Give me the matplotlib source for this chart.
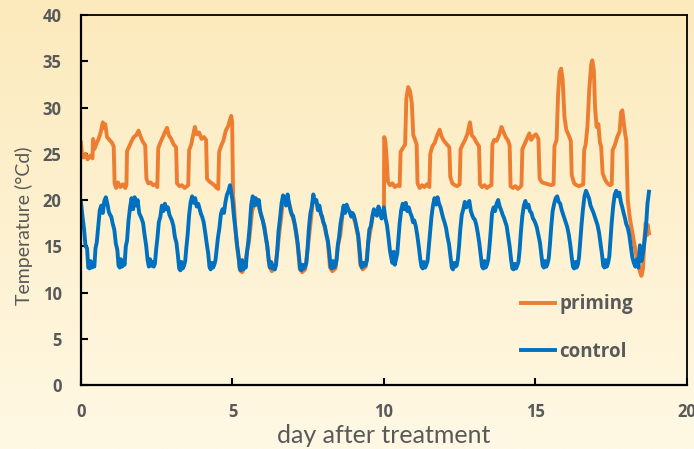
import numpy as np
import matplotlib
matplotlib.use("Agg")
import matplotlib.pyplot as plt

plt.rcParams['font.family'] = ['Lato', 'DejaVu Sans']

# sample offsets within a day (fraction of day)
day_frac = [0.00, 0.05, 0.10, 0.15, 0.20, 0.24, 0.28, 0.32, 0.36, 0.40, 0.44,
            0.48, 0.52, 0.57, 0.62, 0.67, 0.72, 0.77, 0.82, 0.87, 0.92, 0.96]

# control temperature, one row per day (values at day_frac)
control_days = [
    [19.7, 18.2, 16.9, 15.0, 14.8, 12.7, 12.6, 13.4, 12.7, 13.1, 12.8, 14.8, 15.4, 17.2, 18.9, 19.4, 18.6, 19.9, 20.3, 19.6, 18.7, 18.4],
    [18.2, 17.4, 16.8, 15.3, 14.6, 12.9, 12.7, 13.6, 12.8, 13.3, 13.0, 15.0, 15.6, 17.8, 19.2, 20.2, 19.0, 20.3, 19.4, 20.0, 18.6, 18.3],
    [18.0, 17.5, 16.2, 15.1, 13.5, 12.8, 13.6, 12.9, 13.3, 12.8, 13.1, 14.6, 15.8, 17.6, 18.2, 19.4, 18.8, 19.6, 19.0, 19.2, 18.4, 18.1],
    [17.8, 17.2, 16.0, 15.4, 14.0, 12.6, 12.4, 13.3, 12.6, 12.9, 13.4, 14.9, 16.2, 18.4, 19.8, 20.4, 19.7, 20.2, 19.3, 19.6, 19.0, 18.5],
    [18.2, 17.6, 16.5, 15.3, 14.2, 12.8, 12.5, 13.2, 12.7, 13.0, 13.5, 14.7, 15.9, 17.0, 18.5, 19.0, 18.6, 19.8, 20.6, 21.0, 21.6, 20.8],
    [20.0, 18.2, 16.8, 15.2, 14.0, 12.6, 12.4, 13.5, 12.5, 13.1, 12.7, 14.4, 15.4, 17.2, 19.5, 20.4, 19.4, 20.2, 19.5, 20.0, 18.7, 18.2],
    [17.8, 17.0, 16.0, 15.0, 13.4, 12.7, 13.3, 12.6, 12.9, 12.5, 13.0, 14.6, 16.6, 18.0, 19.6, 20.5, 20.0, 19.4, 20.6, 19.6, 18.8, 18.4],
    [18.3, 17.5, 16.6, 15.4, 13.8, 12.5, 12.4, 13.0, 12.6, 12.8, 13.2, 14.8, 16.8, 18.5, 19.3, 20.6, 19.8, 20.0, 18.9, 19.4, 18.5, 18.2],
    [17.6, 17.2, 16.3, 15.6, 14.2, 12.8, 12.6, 13.4, 12.7, 12.9, 13.6, 15.2, 16.0, 17.5, 18.4, 19.4, 18.6, 19.5, 19.0, 18.7, 18.2, 18.6],
    [18.4, 17.8, 17.0, 16.2, 14.5, 13.0, 12.7, 13.2, 12.9, 13.0, 13.5, 15.5, 16.8, 17.2, 18.3, 19.0, 18.5, 18.3, 19.3, 18.8, 18.0, 18.3],
    [19.2, 18.0, 17.3, 16.0, 14.5, 13.8, 13.2, 14.4, 13.0, 13.6, 14.2, 15.8, 17.5, 18.9, 19.6, 19.0, 19.7, 18.8, 19.2, 18.6, 18.2, 17.6],
    [17.8, 17.2, 16.2, 15.0, 13.6, 12.8, 12.6, 13.3, 12.7, 13.0, 13.4, 14.9, 16.5, 18.2, 19.4, 20.2, 19.5, 20.3, 19.6, 19.2, 18.5, 18.0],
    [17.6, 17.0, 16.0, 15.2, 13.8, 12.7, 12.5, 13.2, 12.8, 12.9, 13.6, 15.0, 16.8, 18.4, 19.0, 19.8, 19.2, 19.6, 19.9, 18.8, 18.3, 18.0],
    [17.9, 17.3, 16.4, 15.3, 13.9, 12.8, 12.6, 13.4, 12.7, 13.0, 13.5, 14.8, 16.4, 18.6, 19.2, 18.8, 19.6, 20.0, 19.3, 18.9, 18.4, 18.1],
    [17.7, 17.2, 16.1, 15.0, 13.5, 12.6, 12.5, 13.1, 12.6, 12.9, 13.3, 14.6, 16.5, 18.3, 19.4, 19.9, 19.2, 19.5, 18.8, 18.6, 18.0, 17.8],
    [17.5, 17.0, 16.2, 15.4, 14.0, 12.9, 12.7, 13.4, 12.8, 13.1, 13.7, 15.2, 17.0, 18.8, 19.6, 20.2, 20.4, 19.8, 19.6, 18.9, 18.4, 18.0],
    [17.6, 17.1, 16.3, 15.2, 13.8, 12.8, 12.6, 13.3, 12.7, 13.0, 13.8, 15.5, 17.2, 19.0, 20.4, 21.0, 20.6, 20.2, 19.4, 19.0, 18.6, 18.2],
    [17.8, 17.3, 16.5, 15.3, 14.1, 12.9, 12.7, 13.5, 12.8, 13.2, 13.9, 15.8, 17.6, 19.4, 20.6, 21.0, 20.4, 20.8, 19.8, 19.2, 18.5, 18.0],
]
# last, partial day of control
control_end_t = [18.00, 18.05, 18.10, 18.15, 18.20, 18.25, 18.30, 18.35, 18.40, 18.45, 18.50, 18.55, 18.60, 18.65, 18.70, 18.75]
control_end_v = [17.4, 17.0, 16.2, 15.0, 13.8, 13.2, 12.8, 13.6, 12.7, 15.1, 13.4, 14.2, 15.5, 17.0, 19.6, 20.9]

# priming, first block (days 0-5)
prim_a_t = [0.00, 0.03, 0.08, 0.15, 0.22, 0.30, 0.38, 0.40, 0.44, 0.50, 0.58, 0.65, 0.72, 0.76, 0.80, 0.86, 0.94,
            1.02, 1.08, 1.11, 1.16, 1.22, 1.30, 1.38, 1.46, 1.50, 1.52, 1.58, 1.66, 1.74, 1.82, 1.90, 1.96,
            2.04, 2.12, 2.16, 2.22, 2.30, 2.38, 2.46, 2.52, 2.55, 2.62, 2.70, 2.78, 2.84, 2.90, 2.98,
            3.06, 3.14, 3.17, 3.25, 3.33, 3.42, 3.50, 3.54, 3.57, 3.64, 3.70, 3.76, 3.82, 3.90, 3.98,
            4.06, 4.13, 4.16, 4.24, 4.32, 4.40, 4.48, 4.53, 4.56, 4.62, 4.70, 4.78, 4.86, 4.92, 4.96, 4.99, 5.02, 5.05]
prim_a_v = [26.2, 25.0, 24.6, 25.0, 24.4, 24.8, 24.5, 26.6, 25.5, 26.0, 26.6, 27.3, 28.4, 27.8, 28.2, 26.8, 26.5,
            26.2, 25.8, 21.8, 21.3, 21.9, 21.4, 21.7, 21.3, 21.6, 25.3, 25.7, 26.3, 26.8, 27.0, 27.5, 26.9,
            26.3, 25.9, 22.3, 21.8, 21.9, 21.6, 21.7, 21.4, 25.6, 26.2, 26.8, 27.4, 27.8, 27.0, 26.6,
            26.0, 25.7, 21.8, 21.5, 21.6, 21.3, 21.5, 21.6, 25.4, 26.0, 27.0, 27.9, 27.1, 27.3, 26.6,
            26.8, 26.5, 22.3, 22.0, 21.8, 21.6, 21.3, 21.2, 25.2, 25.8, 26.4, 27.5, 28.0, 28.7, 29.1, 28.4, 20.5, 19.5]

# priming, middle block (days 5-10, close to control)
prim_mid_t = [5.10, 5.15, 5.20, 5.25, 5.32, 5.40, 5.47, 5.55, 5.65, 5.75, 5.85, 5.95,
              6.05, 6.15, 6.22, 6.30, 6.40, 6.48, 6.56, 6.66, 6.76, 6.86, 6.95,
              7.05, 7.15, 7.22, 7.30, 7.40, 7.48, 7.56, 7.66, 7.76, 7.86, 7.95,
              8.05, 8.15, 8.22, 8.30, 8.40, 8.48, 8.56, 8.66, 8.76, 8.86, 8.95,
              9.05, 9.15, 9.22, 9.30, 9.40, 9.48, 9.56, 9.66, 9.76, 9.86, 9.95, 10.00]
prim_mid_v = [16.8, 15.0, 13.8, 12.4, 12.2, 12.8, 14.2, 15.6, 18.8, 19.8, 19.4, 18.4,
              17.2, 15.0, 12.8, 12.3, 12.6, 14.4, 16.8, 19.6, 19.8, 19.8, 18.6,
              17.4, 15.2, 12.6, 12.2, 12.5, 14.6, 17.0, 20.0, 19.8, 19.2, 18.2,
              17.0, 15.4, 12.7, 12.3, 12.6, 15.0, 16.2, 19.2, 19.4, 18.8, 18.5,
              17.6, 16.0, 13.0, 12.5, 12.8, 15.2, 16.8, 18.8, 18.5, 18.8, 18.2, 19.0]

# priming, last block (days 10-18.75)
prim_b_t = [10.01, 10.05, 10.10, 10.13, 10.20, 10.28, 10.36, 10.44, 10.52, 10.55, 10.62, 10.70, 10.74, 10.80, 10.86, 10.92, 10.97,
            11.02, 11.08, 11.11, 11.18, 11.26, 11.34, 11.42, 11.50, 11.53, 11.60, 11.68, 11.76, 11.84, 11.90, 11.98,
            12.08, 12.16, 12.19, 12.26, 12.34, 12.42, 12.50, 12.53, 12.60, 12.68, 12.76, 12.84, 12.90, 12.98,
            13.06, 13.14, 13.17, 13.24, 13.32, 13.40, 13.48, 13.55, 13.58, 13.64, 13.72, 13.80, 13.88, 13.94,
            14.02, 14.10, 14.15, 14.18, 14.26, 14.34, 14.42, 14.50, 14.54, 14.57, 14.64, 14.72, 14.80, 14.86, 14.94,
            15.02, 15.10, 15.14, 15.22, 15.32, 15.42, 15.52, 15.60, 15.63, 15.70, 15.75, 15.80, 15.85, 15.90, 15.96,
            16.02, 16.10, 16.17, 16.20, 16.28, 16.36, 16.44, 16.52, 16.58, 16.61, 16.66, 16.72, 16.78, 16.84, 16.88, 16.93, 16.97,
            17.02, 17.08, 17.13, 17.17, 17.22, 17.30, 17.38, 17.46, 17.52, 17.55, 17.62, 17.70, 17.78, 17.83, 17.87, 17.93, 17.97,
            18.00, 18.05, 18.12, 18.20, 18.28, 18.36, 18.44, 18.50, 18.55, 18.60, 18.64, 18.68, 18.71, 18.75]
prim_b_v = [26.8, 26.3, 24.0, 22.0, 21.6, 21.8, 21.4, 21.6, 21.5, 25.2, 25.6, 26.0, 31.0, 32.2, 31.8, 30.5, 27.0,
            26.6, 26.0, 21.8, 21.3, 21.6, 21.4, 21.7, 21.4, 25.0, 25.8, 26.2, 27.0, 27.6, 26.9, 26.4,
            26.0, 25.7, 22.5, 21.8, 21.6, 21.5, 21.7, 25.5, 26.0, 26.5, 27.2, 28.4, 27.0, 26.7,
            26.2, 25.8, 21.7, 21.4, 21.6, 21.3, 21.5, 21.6, 26.0, 26.5, 26.4, 27.0, 27.9, 27.4,
            26.8, 26.4, 25.9, 21.5, 21.3, 21.5, 21.2, 21.4, 21.6, 25.5, 26.0, 26.6, 27.2, 26.5, 26.9,
            27.1, 26.6, 22.3, 21.9, 21.8, 21.7, 21.6, 21.7, 25.8, 26.5, 31.5, 33.8, 34.2, 33.0, 29.0,
            27.6, 27.0, 26.4, 22.7, 21.8, 21.6, 21.5, 21.6, 21.7, 25.4, 26.0, 28.0, 32.0, 34.6, 35.1, 34.0, 30.0,
            27.9, 28.2, 26.2, 25.8, 22.9, 22.2, 21.8, 21.6, 21.7, 25.4, 25.9, 26.8, 27.4, 29.5, 29.7, 28.0, 27.0,
            26.5, 20.0, 18.0, 16.5, 15.0, 13.5, 12.4, 11.8, 12.5, 15.8, 17.5, 16.2, 17.3, 16.4]

x_ticks = [0, 5, 10, 15, 20]
y_ticks = [0, 5, 10, 15, 20, 25, 30, 35, 40]

# assemble series
control_t = []
control_v = []
for d, vals in enumerate(control_days):
    for f, v in zip(day_frac, vals):
        control_t.append(d + f)
        control_v.append(v)
control_t += control_end_t
control_v += control_end_v

priming_t = prim_a_t + prim_mid_t + prim_b_t
priming_v = prim_a_v + prim_mid_v + prim_b_v

fig = plt.figure(figsize=(6.94, 4.49), dpi=100)

# soft cream gradient background
bg = fig.add_axes([0, 0, 1, 1], zorder=-1)
top = np.array([252, 234, 188]) / 255
bottom = np.array([255, 248, 228]) / 255
g = np.linspace(0, 1, 256)[:, None]
grad = top[None, :] * (1 - g) + bottom[None, :] * g
bg.imshow(np.repeat(grad[:, None, :], 2, axis=1), aspect='auto', extent=[0, 1, 0, 1])
bg.axis('off')

ax = fig.add_axes([0.1167, 0.1425, 0.873, 0.8241])
ax.set_facecolor('none')

ax.plot(priming_t, priming_v, color='#ED7D31', lw=2.8, label='priming', solid_joinstyle='round')
ax.plot(control_t, control_v, color='#0070C0', lw=2.8, label='control', solid_joinstyle='round')

ax.set_xlim(0, 20)
ax.set_ylim(0, 40)
ax.set_xticks(x_ticks, [str(v) for v in x_ticks])
ax.set_yticks(y_ticks, [str(v) for v in y_ticks])

for s in ax.spines.values():
    s.set_color('black')
    s.set_linewidth(1.3)
ax.spines['left'].set_linewidth(1.6)
ax.spines['bottom'].set_linewidth(1.6)

ax.tick_params(direction='in', length=5, width=1.5, colors='black', labelcolor='#595959')
ax.tick_params(axis='y', pad=14)
ax.tick_params(axis='x', pad=13)
plt.setp(ax.get_xticklabels() + ax.get_yticklabels(),
         family=['Open Sans', 'DejaVu Sans'], weight='bold', size=12)

ax.set_xlabel('day after treatment', fontsize=18, color='#595959', labelpad=2)
ax.set_ylabel('Temperature (°Cd)', fontsize=14, color='#595959')
ax.yaxis.set_label_coords(-0.079, 0.43)

leg = ax.legend(loc='upper left', bbox_to_anchor=(0.7265, 0.245), frameon=False,
                borderpad=0, borderaxespad=0,
                handlelength=1.8, handletextpad=0.25, labelspacing=1.45,
                prop={'family': ['Open Sans', 'DejaVu Sans'], 'weight': 'bold', 'size': 13.5})
for t in leg.get_texts():
    t.set_color('#595959')

fig.savefig('out.png', dpi=100)
